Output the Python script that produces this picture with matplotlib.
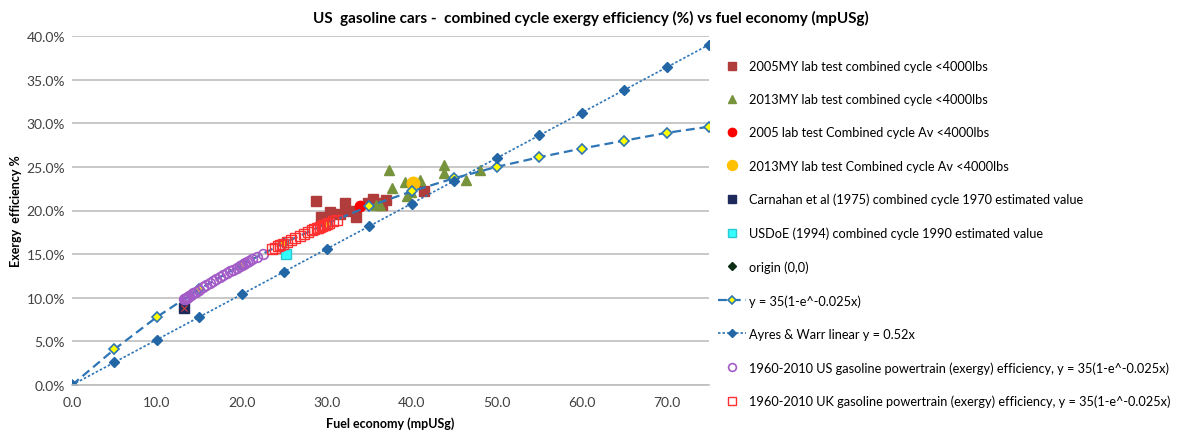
import matplotlib
matplotlib.use("Agg")
import matplotlib.pyplot as plt
from matplotlib.ticker import FuncFormatter, MultipleLocator

plt.rcParams['font.family'] = ['Lato', 'DejaVu Sans']

# ---- data (x: mpUSg, y: exergy efficiency %) ----
mY2005_x = [28.7, 32.1, 29.3, 30.4, 31.6, 32.7, 33.4, 34.8, 35.4, 36.1, 37.0, 41.5, 30.0, 36.5]
mY2005_y = [21.05, 20.9, 19.2, 19.8, 19.6, 19.9, 19.2, 20.9, 21.3, 20.9, 21.2, 22.2, 19.0, 20.6]

mY2013_x = [37.3, 37.7, 39.2, 39.4, 41.0, 43.8, 43.8, 46.4, 48.0, 35.8, 36.3, 39.9]
mY2013_y = [24.6, 22.6, 23.3, 21.7, 23.5, 25.2, 24.3, 23.5, 24.6, 20.6, 20.6, 22.1]

av2005_x = [33.9]
av2005_y = [20.5]
av2013_x = [40.2]
av2013_y = [23.1]

carnahan_x = [13.2]
carnahan_y = [8.8]
usdoe_x = [25.2]
usdoe_y = [15.0]
origin_x = [0.0]
origin_y = [0.0]

curve_x = [0, 5, 10, 15, 20, 25, 30, 35, 40, 45, 50, 55, 60, 65, 70, 75]
exp_y = [0.0, 4.1, 7.8, 11.0, 13.8, 16.3, 18.5, 20.5, 22.2, 23.7, 25.0, 26.1, 27.1, 28.0, 28.9, 29.6]
lin_y = [0.0, 2.6, 5.2, 7.8, 10.4, 13.0, 15.6, 18.2, 20.8, 23.4, 26.0, 28.6, 31.2, 33.8, 36.4, 39.0]

us_x = [13.2, 13.3, 13.4, 13.5, 13.6, 13.8, 14.0, 14.3, 14.6, 15.0, 15.4, 15.8, 16.2, 16.6, 17.0,
        17.4, 17.8, 18.2, 18.6, 19.0, 19.4, 19.8, 20.0, 20.2, 20.4, 20.6, 20.8, 21.2, 21.8, 22.5]
us_y = [9.84, 9.90, 9.96, 10.02, 10.09, 10.21, 10.34, 10.52, 10.70, 10.94, 11.18, 11.42, 11.65, 11.89, 12.12,
        12.34, 12.57, 12.80, 13.02, 13.23, 13.45, 13.66, 13.77, 13.88, 13.98, 14.09, 14.19, 14.40, 14.71, 15.06]

uk_x = [23.6, 23.9, 24.2, 24.5, 24.8, 25.3, 25.8, 26.3, 26.8, 27.3, 27.8, 28.2, 28.5, 28.8, 29.0,
        29.2, 29.4, 29.6, 29.8, 30.0, 30.3, 30.7, 31.2]
uk_y = [15.60, 15.74, 15.89, 16.03, 16.17, 16.41, 16.64, 16.86, 17.09, 17.31, 17.53, 17.71, 17.83, 17.96, 18.05,
        18.13, 18.22, 18.30, 18.38, 18.47, 18.59, 18.75, 18.96]

labels = [
    "2005MY lab test combined cycle <4000lbs",
    "2013MY lab test combined cycle <4000lbs",
    "2005 lab test Combined cycle Av <4000lbs",
    "2013MY lab test Combined cycle Av <4000lbs",
    "Carnahan et al (1975) combined cycle 1970 estimated value",
    "USDoE (1994) combined cycle 1990 estimated value",
    "origin (0,0)",
    "y = 35(1-e^-0.025x)",
    "Ayres & Warr linear y = 0.52x",
    "1960-2010 US gasoline powertrain (exergy) efficiency, y = 35(1-e^-0.025x)",
    "1960-2010 UK gasoline powertrain (exergy) efficiency, y = 35(1-e^-0.025x)",
]

fig = plt.figure(figsize=(11.82, 4.31), dpi=100)
ax = fig.add_axes([72/1182, 1-386/431, (709-72)/1182, (386-37)/431])

blue = '#2E75B6'
h = []
h.append(ax.plot(mY2005_x, mY2005_y, 's', ls='none', color='#B03C3C', ms=7, mec='#B03C3C', label=labels[0])[0])
h.append(ax.plot(mY2013_x, mY2013_y, '^', ls='none', color='#77933C', ms=7.5, label=labels[1])[0])
h.append(ax.plot(av2005_x, av2005_y, 'o', ls='none', color='#FF0000', ms=7.5, label=labels[2])[0])
h.append(ax.plot(av2013_x, av2013_y, 'o', ls='none', color='#FFC000', ms=9, label=labels[3])[0])
h.append(ax.plot(carnahan_x, carnahan_y, 's', ls='none', color='#1F2A5C', mec='#1F2A5C', ms=7.5, label=labels[4])[0])
ax.plot(carnahan_x, carnahan_y, 'x', ls='none', color='#D04040', ms=4, mew=0.8)
h.append(ax.plot(usdoe_x, usdoe_y, 's', ls='none', color='#33FFFF', mec='#2CC8D0', ms=7, label=labels[5])[0])
h.append(ax.plot(origin_x, origin_y, 'D', ls='none', color='#0B2E14', ms=5, label=labels[6])[0])
h.append(ax.plot(curve_x, exp_y, ls=(0, (4, 2.2)), lw=1.6, color=blue, marker='D', ms=5.5,
                 mfc='#FFFF00', mec=blue, mew=1.2, label=labels[7])[0])
h.append(ax.plot(curve_x, lin_y, ls=(0, (1.5, 1.2)), lw=1.2, color=blue, marker='D', ms=5.5,
                 mfc='#2266A6', mec='#2266A6', label=labels[8])[0])
h.append(ax.plot(us_x, us_y, 'o', ls='none', mfc='none', mec='#A35BC7', ms=7, mew=1.2, label=labels[9])[0])
h.append(ax.plot(uk_x, uk_y, 's', ls='none', mfc='none', mec='#FF3030', ms=6.5, mew=1.0, label=labels[10])[0])

ax.set_xlim(0, 75)
ax.set_ylim(0, 40)
ax.xaxis.set_major_locator(MultipleLocator(10))
ax.yaxis.set_major_locator(MultipleLocator(5))
ax.xaxis.set_major_formatter(FuncFormatter(lambda v, p: f"{v:.1f}"))
ax.yaxis.set_major_formatter(FuncFormatter(lambda v, p: f"{v:.1f}%"))
ax.grid(axis='y', color='#BFBFBF', lw=1.2)
ax.set_axisbelow(True)
for s in ['top', 'right', 'left']:
    ax.spines[s].set_visible(False)
ax.spines['bottom'].set_color('#BFBFBF')
ax.spines['bottom'].set_linewidth(1.2)
ax.tick_params(axis='both', length=0, labelsize=10, colors='#404040', pad=5)
ax.tick_params(axis='x', pad=8)

ax.set_xlabel("Fuel economy (mpUSg)", fontsize=9, fontweight='bold', labelpad=6)
ax.set_ylabel("Exergy  efficiency %", fontsize=9, fontweight='bold', labelpad=3)
fig.text(0.5, 1-18/431, "US  gasoline cars -  combined cycle exergy efficiency (%) vs fuel economy (mpUSg)",
         ha='center', va='center', fontsize=11, fontweight='bold')

fig.legend(handles=h, labels=labels, loc='upper left', bbox_to_anchor=(718/1182, 1-61/431),
           frameon=False, fontsize=9.2, labelspacing=1.66, handlelength=2.2, handletextpad=0.25,
           borderpad=0, borderaxespad=0, numpoints=1, markerscale=0.8)

fig.savefig("out.png", dpi=100)
